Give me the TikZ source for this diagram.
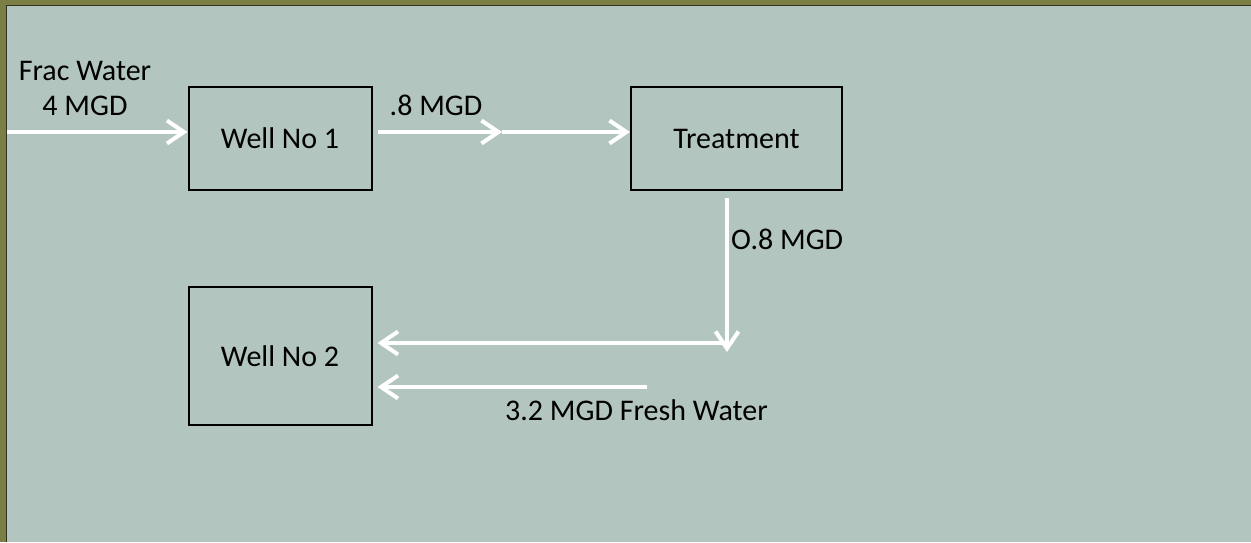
\documentclass[tikz,border=0pt]{standalone}
\usepackage{fontspec}
\setmainfont{Carlito}
\usetikzlibrary{arrows.meta}
\definecolor{olive}{HTML}{7B7F46}
\definecolor{frame}{HTML}{2F3320}
\definecolor{slate}{HTML}{B3C5BF}

\begin{document}
\begin{tikzpicture}
[every node/.style={inner sep=0pt, font=\fontsize{30}{35}\selectfont},
 wellbox/.style={rectangle, draw=black, line width=2pt, fill=slate},
 flow/.style={line width=4pt, color=white, -{Straight Barb[length=17pt,width=23pt]}}]
\fill [olive] (0pt, 0pt) rectangle (1251pt, -542pt);
\fill [frame] (6pt, -5pt) rectangle (1251pt, -542pt);
\fill [slate] (7pt, -6pt) rectangle (1251pt, -542pt);
\useasboundingbox (0pt, 0pt) rectangle (1251pt, -542pt);
\node (well1) [wellbox, minimum width=183pt, minimum height=103pt] at (280.0pt, -138.5pt) {Well No 1};
\node (treat) [wellbox, minimum width=211pt, minimum height=103pt] at (736.5pt, -138.5pt) {Treatment};
\node (well2) [wellbox, minimum width=183pt, minimum height=138pt] at (280.0pt, -356.0pt) {Well No 2};
\node (fraclbl) [align=center] at (85.0pt, -88.5pt) {Frac Water\\4 MGD};
\node (outlbl) [anchor=base] at (436.0pt, -115.0pt) {.8 MGD};
\node (treatlbl) [anchor=base west] at (731.0pt, -249.0pt) {O.8 MGD};
\node (freshlbl) [anchor=base west] at (505.0pt, -420.0pt) {3.2 MGD Fresh Water};
\coordinate (src) at (7.0pt, -132.0pt);
\coordinate (mid) at (502.0pt, -132.0pt);
\coordinate (drop) at (727.0pt, -352.0pt);
\coordinate (join) at (727.0pt, -343.0pt);
\coordinate (fresh) at (647.0pt, -387.0pt);
\draw [flow] (src) to (src -| well1.west);
\draw [flow] ([xshift=5pt]well1.east |- mid) to (mid);
\draw [flow] (mid) to (mid -| treat.west);
\draw [flow] ([yshift=-7pt]treat.south -| drop) to (drop);
\draw [flow] (join) to ([xshift=5pt]well2.east |- join);
\draw [flow] (fresh) to ([xshift=5pt]well2.east |- fresh);
\end{tikzpicture}
\end{document}
